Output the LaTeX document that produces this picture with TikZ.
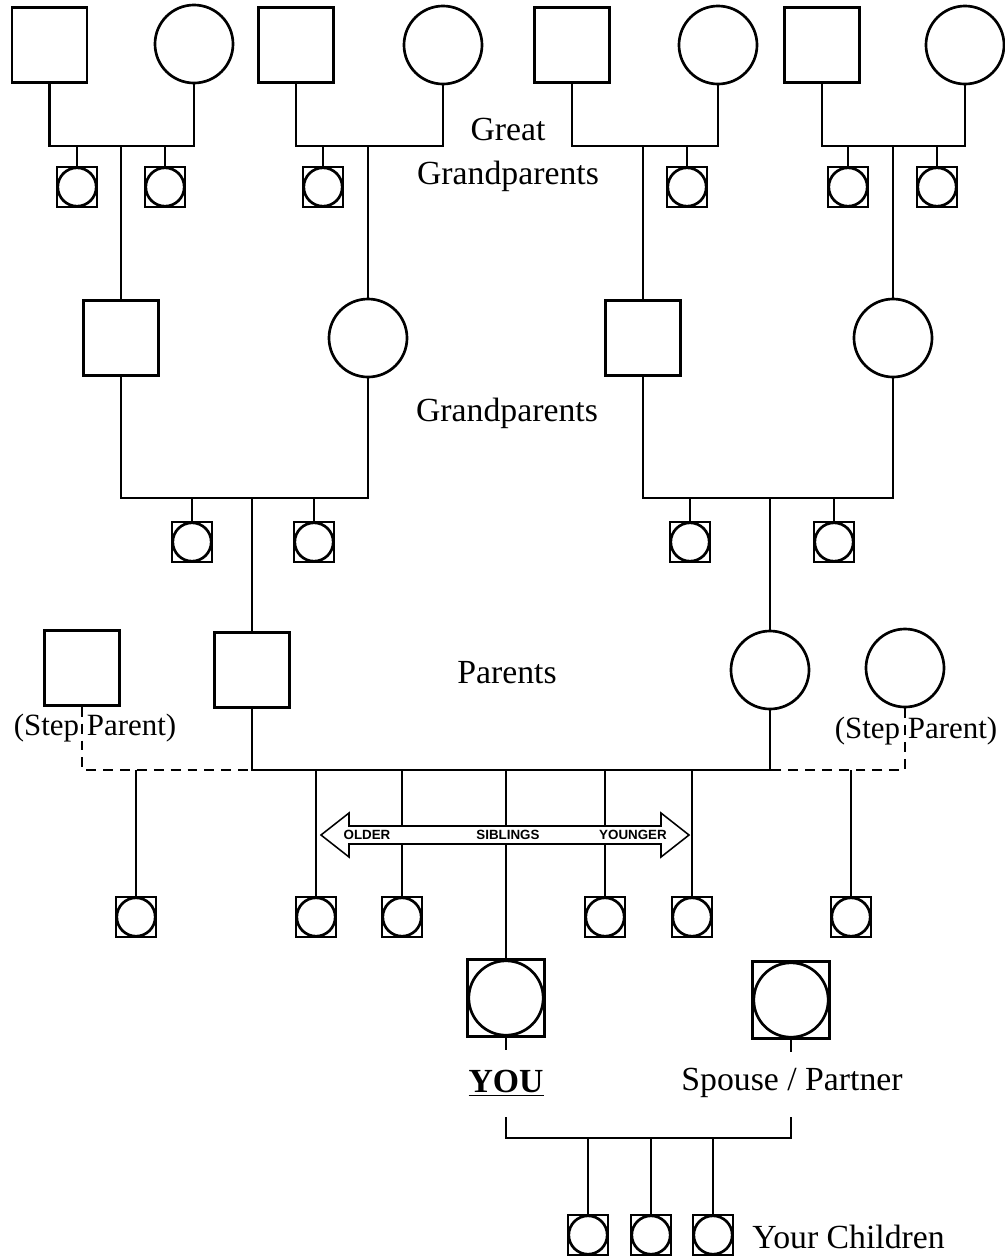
\documentclass[tikz,border=0pt]{standalone}
\usepackage{fontspec}
\setmainfont{Liberation Serif}
\newfontfamily\arrowfont{Liberation Sans}
\begin{document}
\begin{tikzpicture}[x=0.025cm, y=-0.025cm, line width=1.9pt,
  every node/.style={font=\fontsize{24}{31}\selectfont, inner sep=0pt},
  male/.style={draw, rectangle, minimum size=1.875cm},
  female/.style={draw, circle, minimum size=1.95cm},
  kin/.style={draw, rectangle, minimum size=1cm,
    path picture={\draw (path picture bounding box.center) circle (0.48cm);}},
  self/.style={draw, rectangle, minimum size=1.925cm,
    path picture={\draw (path picture bounding box.center) circle (0.93cm);}},
  stepline/.style={dash pattern=on 7pt off 5pt},
  steptag/.style={font=\fontsize{22}{26}\selectfont},
  arrowtxt/.style={font=\arrowfont\bfseries\fontsize{9.5}{11}\selectfont}]
  \useasboundingbox (0,0) rectangle (1005,1259);

  % great grandparents
  \node[male]   (ggfa) at (49.5,45) {};
  \node[female] (ggma) at (194,44) {};
  \node[male]   (ggfb) at (296,45) {};
  \node[female] (ggmb) at (443,45) {};
  \node[male]   (ggfc) at (572,45) {};
  \node[female] (ggmc) at (718,45) {};
  \node[male]   (ggfd) at (822,45) {};
  \node[female] (ggmd) at (965,45) {};
  \coordinate (ja) at (121,146);
  \coordinate (jb) at (368,146);
  \coordinate (jc) at (643,146);
  \coordinate (jd) at (893,146);
  \draw (ggfa.south) |- (ja) -| (ggma.south);
  \draw (ggfb.south) |- (jb) -| (ggmb.south);
  \draw (ggfc.south) |- (jc) -| (ggmc.south);
  \draw (ggfd.south) |- (jd) -| (ggmd.south);

  % their other children
  \node[kin] (ua1) at (77,187) {};
  \node[kin] (ua2) at (165,187) {};
  \node[kin] (ub1) at (323,187) {};
  \node[kin] (uc1) at (687,187) {};
  \node[kin] (ud1) at (848,187) {};
  \node[kin] (ud2) at (937,187) {};
  \foreach \u/\j in {ua1/ja, ua2/ja, ub1/jb, uc1/jc, ud1/jd, ud2/jd}
    \draw (\u.north) -- (\u.north |- \j);

  \node[align=center] (ggtag) at (508,155) {Great\\Grandparents};

  % grandparents
  \node[male]   (gfa) at (121,338) {};
  \node[female] (gma) at (368,338) {};
  \node[male]   (gfb) at (643,338) {};
  \node[female] (gmb) at (893,338) {};
  \draw (ja) -- (gfa.north);
  \draw (jb) -- (gma.north);
  \draw (jc) -- (gfb.north);
  \draw (jd) -- (gmb.north);
  \node (gptag) at (507,413) {Grandparents};

  \coordinate (pa) at (252,498);
  \coordinate (pb) at (770,498);
  \draw (gfa.south) |- (pa) -| (gma.south);
  \draw (gfb.south) |- (pb) -| (gmb.south);

  % aunts and uncles
  \node[kin] (aa1) at (192,542) {};
  \node[kin] (aa2) at (314,542) {};
  \node[kin] (ab1) at (690,542) {};
  \node[kin] (ab2) at (834,542) {};
  \foreach \u/\j in {aa1/pa, aa2/pa, ab1/pb, ab2/pb}
    \draw (\u.north) -- (\u.north |- \j);

  % parents
  \node[male]   (dad) at (252,670) {};
  \node[female] (mom) at (770,670) {};
  \node[male]   (stepdad) at (82,668) {};
  \node[female] (stepmom) at (905,668) {};
  \draw (pa) -- (dad.north);
  \draw (pb) -- (mom.north);
  \node (ptag) at (507,673) {Parents};
  \node[steptag] (stepatag) at (95,728) {(Step Parent)};
  \node[steptag] (stepbtag) at (916,731) {(Step Parent)};

  \coordinate (fl) at (252,770);
  \coordinate (fr) at (770,770);
  \draw (dad.south) -- (fl) -- (fr) -- (mom.south);
  \draw[stepline] (stepdad.south) |- (fl);
  \draw[stepline] (stepmom.south) |- (fr);

  % siblings
  \node[kin] (halfa) at (136,917) {};
  \node[kin] (sa) at (316,917) {};
  \node[kin] (sb) at (402,917) {};
  \node[kin] (sc) at (605,917) {};
  \node[kin] (sd) at (692,917) {};
  \node[kin] (halfb) at (851,917) {};
  \node[self] (you) at (506,998) {};
  \node[self] (spouse) at (791,1000) {};
  \foreach \s in {halfa, sa, sb, you, sc, sd, halfb}
    \draw (\s.north) -- (\s.north |- fl);

  % older / younger arrow
  \draw[fill=white, line width=1.1pt] (321,835) -- (349,813) -- (349,826)
    -- (661,826) -- (661,813) -- (689,835) -- (661,857) -- (661,844)
    -- (349,844) -- (349,857) -- cycle;
  \node[arrowtxt] (oldtag) at (367,835) {OLDER};
  \node[arrowtxt] (sibtag) at (508,835) {SIBLINGS};
  \node[arrowtxt] (youngtag) at (633,835) {YOUNGER};

  % you and partner
  \draw (you.south) -- ++(0,12);
  \draw (spouse.south) -- ++(0,12);
  \node (youtag) at (506,1083) {\textbf{\underline{YOU}}};
  \node (spousetag) at (792,1083) {Spouse / Partner};

  \coordinate (ka) at (506,1117);
  \coordinate (kb) at (791,1117);
  \coordinate (kc) at (651,1138);
  \draw (ka) |- (kc) -| (kb);

  % children
  \node[kin] (ca) at (588,1235) {};
  \node[kin] (cb) at (651,1235) {};
  \node[kin] (cc) at (713,1235) {};
  \foreach \c in {ca, cb, cc}
    \draw (\c.north) -- (\c.north |- kc);
  \node[anchor=west] (kidstag) at (751,1237) {Your Children};
\end{tikzpicture}
\end{document}
